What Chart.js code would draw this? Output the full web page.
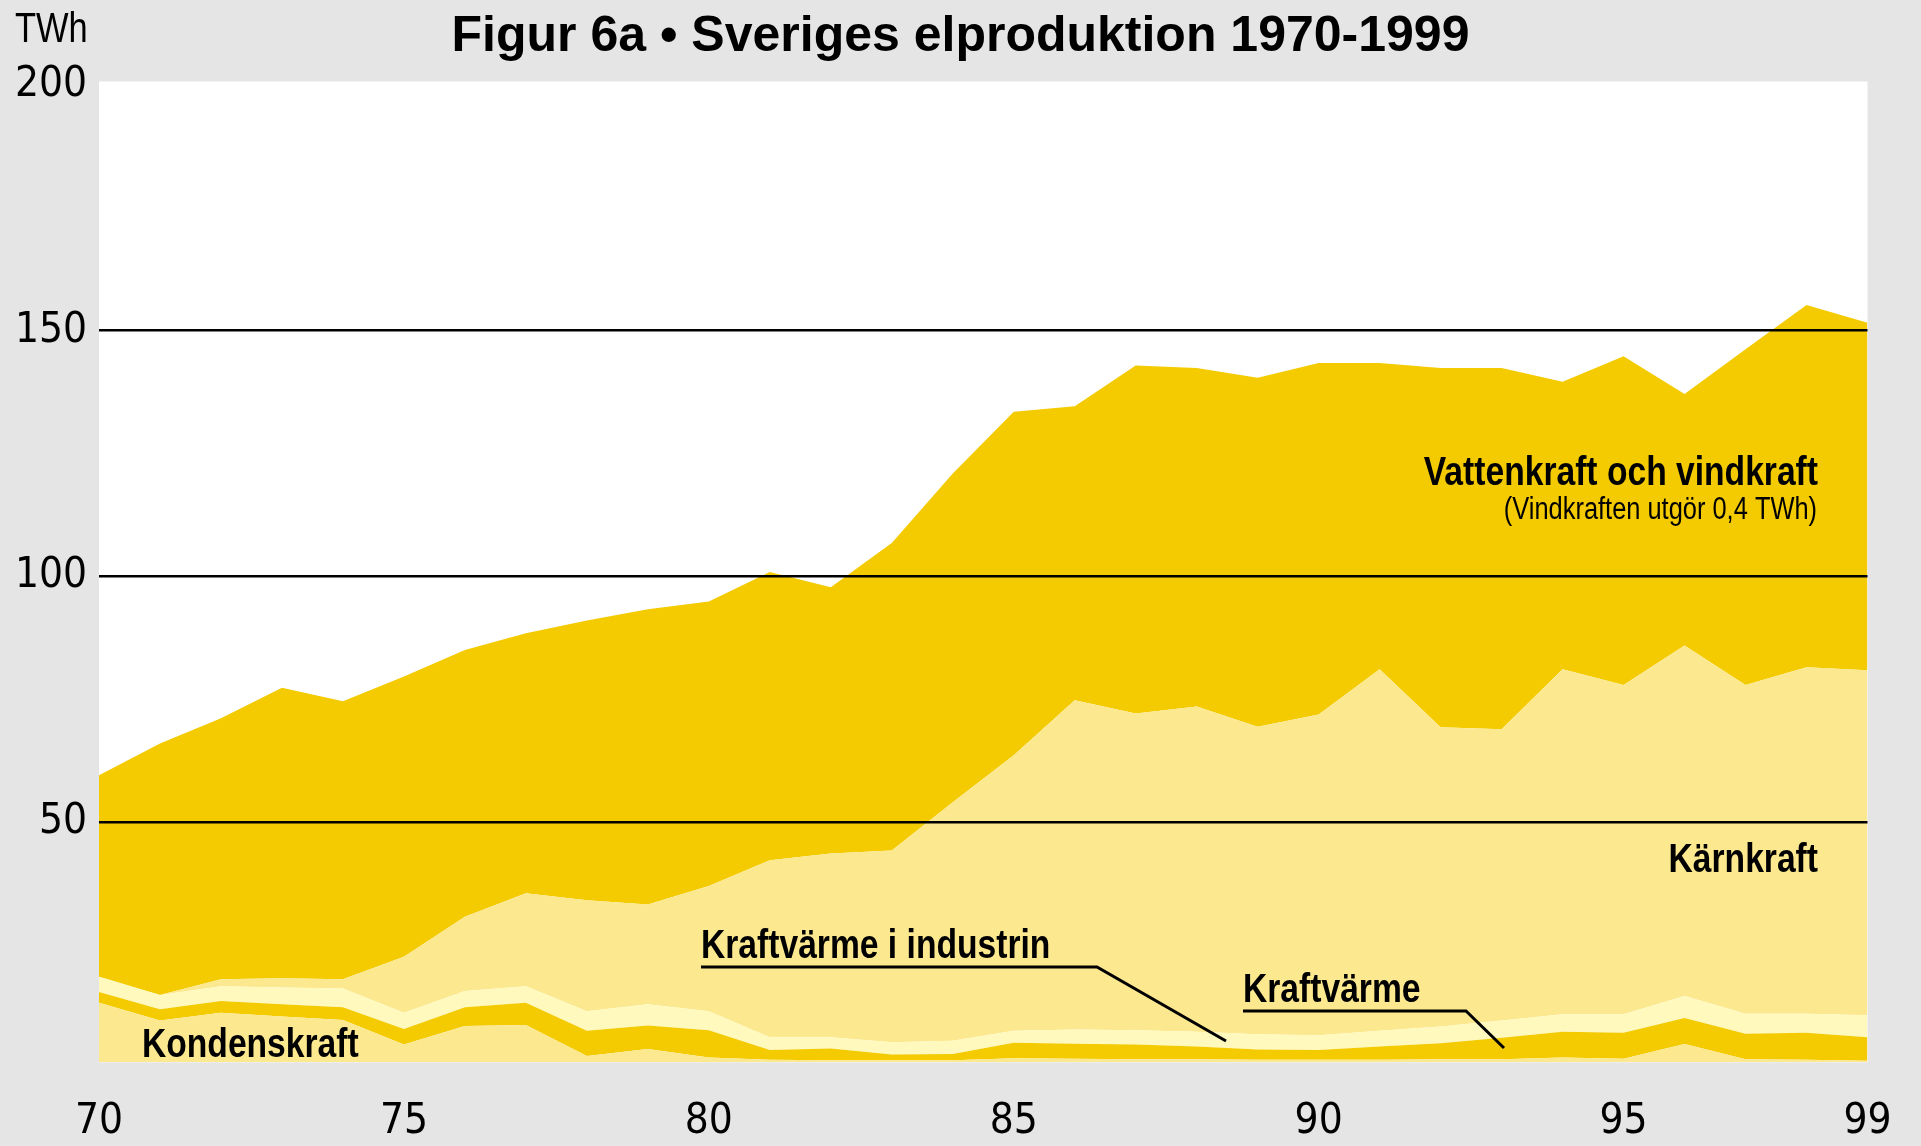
<!DOCTYPE html>
<html>
<head>
<meta charset="utf-8">
<script src="https://cdn.jsdelivr.net/npm/chart.js@4.4.1/dist/chart.umd.min.js"></script>
<style>
html,body{margin:0;padding:0;background:#e5e5e5;overflow:hidden}
canvas{display:block}
</style>
</head>
<body>
<canvas id="c" width="1921" height="1146"></canvas>
<script>
// ---- data (TWh) ----
const years = ['70','71','72','73','74','75','76','77','78','79','80','81','82','83','84','85','86','87','88','89','90','91','92','93','94','95','96','97','98','99'];
const tickYears = ['70','75','80','85','90','95','99'];
const kondenskraft       = [13.2, 9.6,11.2,10.4, 9.7, 4.7, 8.5, 8.7, 2.4, 3.8, 2.1, 1.6, 1.5, 1.5, 1.5, 1.9, 1.8, 1.7, 1.7, 1.6, 1.6, 1.6, 1.7, 1.7, 2.1, 1.8, 4.8, 1.7, 1.6, 1.4];
const kraftvarme         = [ 2.2, 2.3, 2.4, 2.5, 2.6, 3.2, 3.8, 4.5, 5.1, 4.8, 5.5, 2.0, 2.4, 1.2, 1.3, 3.2, 3.1, 3.0, 2.6, 2.1, 2.0, 2.7, 3.3, 4.4, 5.2, 5.3, 5.3, 5.2, 5.5, 4.8];
const kraftvarmeIndustri = [ 3.1, 2.9, 3.0, 3.4, 3.8, 3.3, 3.3, 3.4, 4.0, 4.3, 3.9, 2.6, 2.3, 2.5, 2.7, 2.4, 2.9, 2.9, 3.0, 3.1, 3.0, 3.2, 3.4, 3.5, 3.6, 3.8, 4.5, 4.1, 3.9, 4.5];
const karnkraft          = [ 0.0, 0.0, 1.4, 1.9, 1.9,11.4,15.1,18.9,22.6,20.3,25.5,36.0,37.4,39.0,48.5,56.1,67.0,64.5,66.2,62.6,65.3,73.6,60.9,59.3,70.2,67.0,71.3,66.9,70.5,70.2];
const vattenkraft        = [41.0,51.2,53.1,59.1,56.6,57.0,54.3,52.9,56.9,60.1,57.9,58.7,54.2,62.6,66.9,69.9,59.8,70.8,68.9,71.0,71.5,62.3,73.1,73.5,58.5,66.9,51.2,68.3,73.7,70.7];
const yTicks = [50, 100, 150, 200];
const gridValues = [50, 100, 150];

// ---- styling ----
const GOLD = '#f4cb00';
const LIGHT = '#fce98f';
const CREAM = '#fff9be';
const BG = '#e5e5e5';
const NARROW_SCALE = 0.82;   // horizontal condensing for label text

const cv = document.getElementById('c');
const mctx = cv.getContext('2d');
function has(fam){
  const s = 'abcdefghijklmnopqrstuvwxyzABCDEFGHIJKLMNOPQRSTUVWXYZ0123456789';
  mctx.font = '40px monospace'; const a = mctx.measureText(s).width;
  mctx.font = '40px "' + fam + '", monospace'; const b = mctx.measureText(s).width;
  mctx.font = '40px serif'; const c = mctx.measureText(s).width;
  mctx.font = '40px "' + fam + '", serif'; const d = mctx.measureText(s).width;
  return a !== b || c !== d;
}
const tickList = ['Liberation Sans Narrow','DejaVu Sans Condensed','Liberation Sans'];
let TICK_NAME = 'Liberation Sans';
for (const f of tickList){ if (has(f)) { TICK_NAME = f; break; } }
const TICKFONT = '"' + TICK_NAME + '", "DejaVu Sans", sans-serif';
const WIDE = '"Liberation Sans", Arial, sans-serif';

function narrowText(ctx, text, x, y, align, font){
  ctx.save();
  ctx.font = font;
  ctx.textAlign = align;
  ctx.textBaseline = 'alphabetic';
  ctx.translate(x, y);
  ctx.scale(NARROW_SCALE, 1);
  ctx.fillText(text, 0, 0);
  ctx.restore();
}

const bgPlugin = {
  id: 'bg',
  beforeDraw(chart){
    const {ctx, chartArea:a} = chart;
    ctx.save();
    ctx.fillStyle = BG;
    ctx.fillRect(0, 0, chart.width, chart.height);
    ctx.fillStyle = '#ffffff';
    ctx.fillRect(a.left, a.top, a.right - a.left, a.bottom - a.top);
    ctx.restore();
  }
};

const annotPlugin = {
  id: 'annot',
  afterDraw(chart){
    const ctx = chart.ctx;
    ctx.save();
    ctx.fillStyle = '#000';
    ctx.strokeStyle = '#000';
    const B = 'bold 41px ' + WIDE;
    narrowText(ctx, 'TWh', 15, 42, 'left', '42px ' + WIDE);
    narrowText(ctx, 'Vattenkraft och vindkraft', 1818, 485, 'right', B);
    narrowText(ctx, '(Vindkraften utgör 0,4 TWh)', 1817, 519, 'right', '31px ' + WIDE);
    narrowText(ctx, 'Kärnkraft', 1818, 872, 'right', B);
    narrowText(ctx, 'Kraftvärme i industrin', 701, 958, 'left', B);
    narrowText(ctx, 'Kraftvärme', 1243, 1002, 'left', B);
    narrowText(ctx, 'Kondenskraft', 142, 1057, 'left', B);
    // leader lines
    ctx.lineWidth = 3;
    ctx.lineJoin = 'miter';
    ctx.beginPath(); ctx.moveTo(701, 967); ctx.lineTo(1097, 967); ctx.lineTo(1226, 1041); ctx.stroke();
    ctx.beginPath(); ctx.moveTo(1243, 1011); ctx.lineTo(1466, 1011); ctx.lineTo(1504, 1048); ctx.stroke();
    ctx.restore();
  }
};

new Chart(cv, {
  type: 'line',
  data: {
    labels: years,
    datasets: [
      {label: 'Kondenskraft', data: kondenskraft, backgroundColor: LIGHT, fill: 'origin'},
      {label: 'Kraftvärme', data: kraftvarme, backgroundColor: GOLD, fill: '-1'},
      {label: 'Kraftvärme i industrin', data: kraftvarmeIndustri, backgroundColor: CREAM, fill: '-1'},
      {label: 'Kärnkraft', data: karnkraft, backgroundColor: LIGHT, fill: '-1'},
      {label: 'Vattenkraft och vindkraft', data: vattenkraft, backgroundColor: GOLD, fill: '-1'}
    ]
  },
  options: {
    responsive: false,
    animation: false,
    devicePixelRatio: 1,
    elements: {
      line: {borderWidth: 0, tension: 0, borderColor: 'rgba(0,0,0,0)'},
      point: {radius: 0, hoverRadius: 0}
    },
    layout: {padding: 0},
    plugins: {
      legend: {display: false},
      tooltip: {enabled: false},
      title: {
        display: true,
        text: 'Figur 6a • Sveriges elproduktion 1970-1999',
        color: '#000',
        font: {family: WIDE, size: 50, weight: 'bold', lineHeight: 1.2},
        padding: {top: 7, bottom: 14.5}
      }
    },
    scales: {
      x: {
        type: 'category',
        offset: false,
        grid: {display: false},
        border: {display: false},
        ticks: {
          autoSkip: false, maxRotation: 0, minRotation: 0, padding: 27,
          color: '#000', font: {family: TICKFONT, size: 42},
          callback: (v, i) => tickYears.includes(years[i]) ? years[i] : ''
        },
        afterFit: s => { s.height = 83.7; }
      },
      y: {
        stacked: true,
        min: 1.1,
        max: 200.7,
        border: {display: false},
        grid: {
          z: 1,
          color: c => (c.tick && gridValues.includes(c.tick.value)) ? '#000' : 'rgba(0,0,0,0)',
          lineWidth: 2.5,
          drawTicks: false
        },
        ticks: {padding: 12, color: '#000', font: {family: TICKFONT, size: 42}},
        afterBuildTicks: s => { s.ticks = yTicks.map(v => ({value: v})); },
        afterFit: s => { s.width = 99; }
      },
      yR: {
        position: 'right',
        display: true,
        grid: {display: false},
        border: {display: false},
        ticks: {display: false},
        afterFit: s => { s.width = 53.5; }
      }
    }
  },
  plugins: [bgPlugin, annotPlugin]
});
</script>
</body>
</html>
